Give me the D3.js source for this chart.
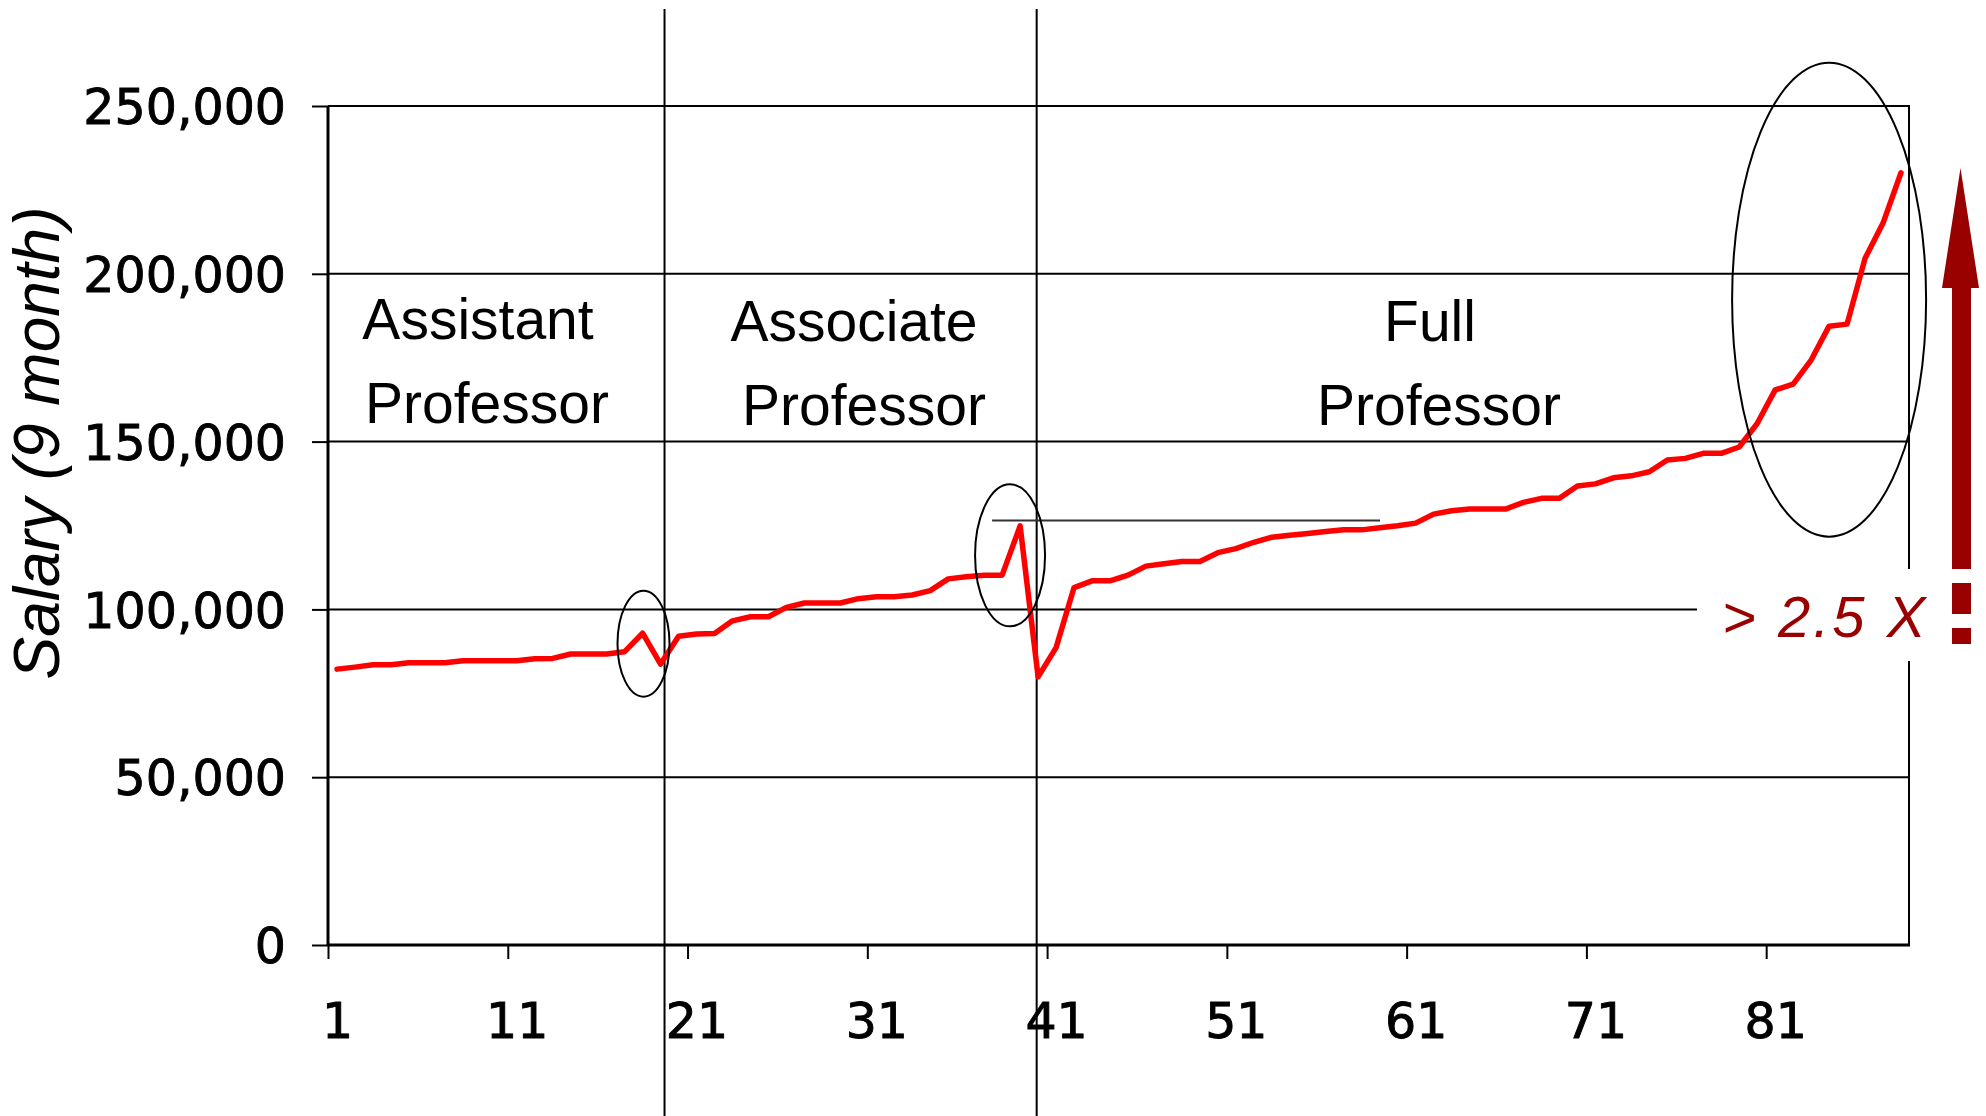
<!DOCTYPE html>
<html>
<head>
<meta charset="utf-8">
<script src="https://cdn.jsdelivr.net/npm/d3@7/dist/d3.min.js"></script>
<style>
  html, body { margin: 0; padding: 0; background: #fff; }
  svg { display: block; }
</style>
</head>
<body>
<svg id="chart" width="1986" height="1116"></svg>
<script>
// ---------------- data ----------------
const ranks = d3.range(1, 89);            // faculty members sorted by rank / salary
const salaries = [
  82200, 82800, 83500, 83500, 84100, 84100, 84100, 84700, 84700, 84700,
  84700, 85300, 85400, 86700, 86700, 86700, 87400, 92900, 83700, 92000,
  92700, 92800, 96600, 97800, 97800, 100600, 101900, 101900, 101900, 103200,
  103800, 103800, 104300, 105600, 109100, 109700, 110200, 110200, 124900, 79900,
  88600, 106500, 108500, 108500, 110200, 112900, 113600, 114300, 114300, 116900,
  118100, 120000, 121500, 122100, 122600, 123200, 123700, 123700, 124300, 124900,
  125700, 128400, 129400, 129900, 129900, 129900, 131900, 133100, 133100, 136800,
  137400, 139200, 139800, 141000, 144500, 145000, 146500, 146500, 148400, 155400,
  165400, 167100, 174300, 184400, 185000, 204600, 215100, 230100
];
const yTicks = [0, 50000, 100000, 150000, 200000, 250000];
const xTickLabels = [1, 11, 21, 31, 41, 51, 61, 71, 81];
const groupNames = [["Assistant", "Professor"], ["Associate", "Professor"], ["Full", "Professor"]];
const separatorRanks = [19.22, 39.92];
const refLine = { value: 126500, from: 37.44, to: 59.02 };
const highlightCenters = [[18.05, 89800], [38.44, 116100], [84.0, 192300]];
const ratioLabel = "> 2.5 X";
const yTitle = "Salary (9 month)";

// ---------------- layout ----------------
const svg = d3.select("#chart");
const L = 328, R = 1910, T = 106, B = 945;
const x = d3.scaleLinear().domain([0.5, ranks.length + 0.5]).range([L, R]);
const y = d3.scaleLinear().domain([0, 250000]).range([B, T]);
const tickFont = "'DejaVu Sans', Verdana, sans-serif";
const labelFont = "'Liberation Sans', Arial, sans-serif";

// gridlines
svg.append("g").selectAll("line").data(yTicks.filter(d => d > 0)).join("line")
  .attr("x1", L).attr("x2", R).attr("y1", d => y(d)).attr("y2", d => y(d))
  .attr("stroke", "#000").attr("stroke-width", 2);

// right border
svg.append("line").attr("x1", R - 1).attr("x2", R - 1).attr("y1", T).attr("y2", B)
  .attr("stroke", "#000").attr("stroke-width", 2);

// y axis
const yAxis = svg.append("g").attr("transform", `translate(${L},0)`)
  .call(d3.axisLeft(y).tickValues(yTicks).tickSize(16).tickPadding(26).tickFormat(d3.format(",")));
yAxis.select(".domain").attr("stroke-width", 3).attr("d", `M0,${T}V${B}`);
yAxis.selectAll(".tick line").attr("stroke-width", 2);
yAxis.selectAll("text").attr("font-family", tickFont).attr("font-size", 49).attr("fill", "#000")
  .attr("stroke", "#000").attr("stroke-width", 0.9).attr("dy", "0.36em");

// x axis: tick marks at category boundaries, labels at category centres
const xTicksAxis = svg.append("g").attr("transform", `translate(0,${B})`)
  .call(d3.axisBottom(x).tickValues(xTickLabels.map(d => d - 0.5)).tickSize(14).tickFormat(""));
xTicksAxis.select(".domain").attr("stroke-width", 3).attr("d", `M${L},0H${R}`);
xTicksAxis.selectAll(".tick line").attr("stroke-width", 2);
const xLabelAxis = svg.append("g").attr("transform", `translate(0,${B})`)
  .call(d3.axisBottom(x).tickValues(xTickLabels).tickSize(0).tickPadding(58).tickFormat(d3.format("d")));
xLabelAxis.select(".domain").remove();
xLabelAxis.selectAll("text").attr("font-family", tickFont).attr("font-size", 49).attr("fill", "#000")
  .attr("stroke", "#000").attr("stroke-width", 0.9);

// group separators
svg.append("g").selectAll("line").data(separatorRanks).join("line")
  .attr("x1", d => x(d)).attr("x2", d => x(d)).attr("y1", 9).attr("y2", 1116)
  .attr("stroke", "#000").attr("stroke-width", 2);

// reference line at the associate peak
svg.append("line")
  .attr("x1", x(refLine.from)).attr("x2", x(refLine.to))
  .attr("y1", y(refLine.value)).attr("y2", y(refLine.value))
  .attr("stroke", "#333").attr("stroke-width", 2);

// group labels
const groupPos = [[[478, 339], [487, 423]], [[854, 341], [864, 425]], [[1430, 341], [1439, 425]]];
groupNames.forEach((lines, gi) => {
  lines.forEach((t, li) => {
    svg.append("text").text(t)
      .attr("x", groupPos[gi][li][0]).attr("y", groupPos[gi][li][1])
      .attr("text-anchor", "middle")
      .attr("font-family", labelFont).attr("font-size", 57).attr("fill", "#000");
  });
});

// salary line
const line = d3.line().x((d, i) => x(ranks[i])).y(d => y(d));
svg.append("path").datum(salaries)
  .attr("d", line).attr("fill", "none")
  .attr("stroke", "#ff0000").attr("stroke-width", 5.5)
  .attr("stroke-linejoin", "round").attr("stroke-linecap", "round");

// highlight ellipses
const ellipseR = [[26, 53], [35, 71], [97, 237]];
svg.append("g").selectAll("ellipse").data(highlightCenters).join("ellipse")
  .attr("cx", d => x(d[0])).attr("cy", d => y(d[1]))
  .attr("rx", (d, i) => ellipseR[i][0]).attr("ry", (d, i) => ellipseR[i][1])
  .attr("fill", "none").attr("stroke", "#000").attr("stroke-width", 2);

// ratio label with white box
svg.append("rect").attr("x", 1697).attr("y", 569).attr("width", 240).attr("height", 92).attr("fill", "#fff");
svg.append("text").text(ratioLabel)
  .attr("x", 1722).attr("y", 637)
  .attr("font-family", labelFont).attr("font-style", "italic")
  .attr("font-size", 58).attr("letter-spacing", 3).attr("fill", "#990000");

// striped up arrow
const ar = svg.append("g").attr("fill", "#990000");
ar.append("path").attr("d", "M1960.5,168 L1979,288 L1971,288 L1971,569 L1952,569 L1952,288 L1942,288 Z");
ar.append("rect").attr("x", 1952).attr("y", 583).attr("width", 19).attr("height", 31);
ar.append("rect").attr("x", 1952).attr("y", 628).attr("width", 19).attr("height", 16);

// y axis title
svg.append("text").text(yTitle)
  .attr("transform", "translate(59,443) rotate(-90)")
  .attr("text-anchor", "middle")
  .attr("font-family", labelFont).attr("font-style", "italic")
  .attr("font-size", 64).attr("fill", "#000");
</script>
</body>
</html>
